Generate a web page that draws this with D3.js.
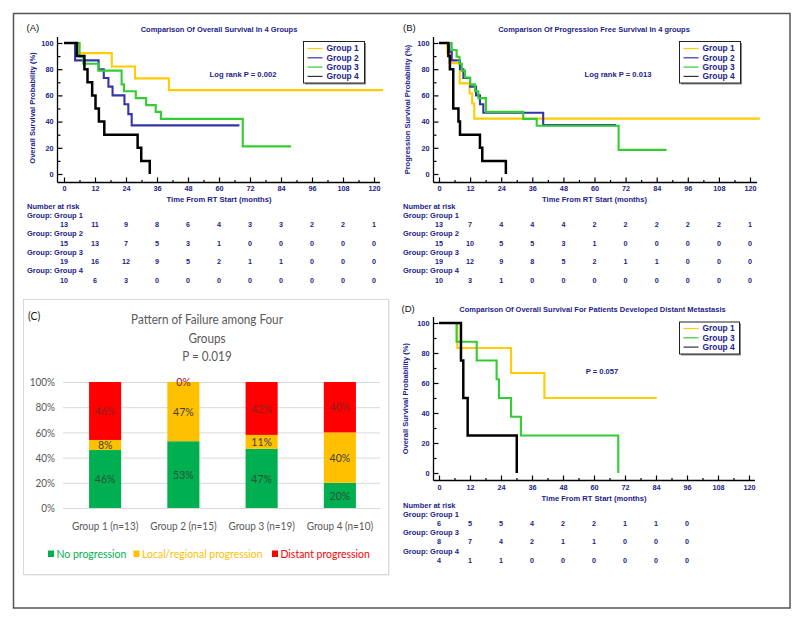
<!DOCTYPE html>
<html><head><meta charset="utf-8">
<script src="https://cdn.jsdelivr.net/npm/d3@7"></script>
<style>body{margin:0;background:#fff}svg{display:block}</style>
</head><body>
<svg id="fig" width="800" height="619"></svg>
<script>
// ---------- DATA ----------
const timeTicks = [0,12,24,36,48,60,72,84,96,108,120];
const timeMinor = [6,18,30,42,54,66,78,90,102,114];
const survTicks = [0,20,40,60,80,100];
const survMinor = [10,30,50,70,90];
const groupNames = ["Group 1","Group 2","Group 3","Group 4"];

// Panel A: overall survival [months, %]
const osG1 = [[0,100],[6,92.3],[18.5,82.1],[27.5,73.0],[40.6,64.0],[123.5,64.0]];
const osG2 = [[0,100],[4.3,86.7],[13.4,80.0],[15.4,73.3],[17.2,66.7],[18.8,60.0],[23.4,53.3],[24.9,45.7],[26.2,37.1],[67.9,37.1]];
const osG3 = [[0,100],[6,89.5],[7.5,84.2],[13.3,78.9],[22.3,68.4],[23.2,63.2],[27.8,57.9],[31.8,52.6],[35.5,47.4],[37.5,42.1],[69.2,21.1],[87.9,21.1]];
const osG4 = [[0,100],[5,90],[7.9,80],[9.1,70],[10.9,60],[12.2,50],[13.5,40],[15.6,30],[28.5,20],[29.9,10],[33.2,0]];
const riskA = [[13,11,9,8,6,4,3,3,2,2,1],[15,13,7,5,3,1,0,0,0,0,0],[19,16,12,9,5,2,1,1,0,0,0],[10,6,3,0,0,0,0,0,0,0,0]];

// Panel B: progression free survival
const pfsG1 = [[0,100],[3.2,92.3],[4,84.6],[8,69.2],[11.8,61.5],[12.8,53.8],[13.6,42.3],[123.8,42.3]];
const pfsG2 = [[0,100],[4,93.3],[4.9,86.7],[8.1,80.0],[9.4,73.3],[12,66.7],[14.3,60.0],[15.8,53.3],[17.1,46.7],[40.2,37.3],[68.3,37.3]];
const pfsG3 = [[0,100],[4.9,94.7],[6.8,89.5],[7.9,84.2],[8.8,78.9],[10,73.7],[12,68.4],[13.9,63.2],[15.2,57.9],[18.1,47.4],[32.5,42.1],[37.7,36.8],[69.3,18.4],[87.8,18.4]];
const pfsG4 = [[0,100],[3.6,90],[4.2,80],[5.5,50],[7.5,40],[8.1,30],[15.8,20],[16.7,10],[25.8,0]];
const riskB = [[13,7,4,4,4,2,2,2,2,2,1],[15,10,5,5,3,1,0,0,0,0,0],[19,12,9,8,5,2,1,1,0,0,0],[10,3,1,0,0,0,0,0,0,0,0]];

// Panel D: overall survival, distant metastasis
const dmNames = ["Group 1","Group 3","Group 4"];
const dmG1 = [[0,100],[7.1,83.3],[27.9,66.7],[40.8,50],[84.3,50]];
const dmG3 = [[0,100],[6.8,87.5],[14.6,75],[22.3,62.5],[23.2,50],[27.9,37.5],[31.7,25],[69.4,0]];
const dmG4 = [[0,100],[8.5,75],[9.4,50],[11.1,25],[30.1,0]];
const riskD = [[6,5,5,4,2,2,1,1,0],[8,7,4,2,1,1,0,0,0],[4,1,1,0,0,0,0,0,0]];

// Panel C: pattern of failure (%)
const failCats = ["Group 1 (n=13)","Group 2 (n=15)","Group 3 (n=19)","Group 4 (n=10)"];
const noProgression = [46,53,47,20];
const localRegional = [8,47,11,40];
const distantProg = [46,0,42,40];
const pctTicks = [0,20,40,60,80,100];
const failSeries = ["No progression","Local/regional progression","Distant progression"];

// ---------- STYLE ----------
const NAVY = "#22228a";
const COL = {g1:"#FFCC00", g2:"#3535A8", g3:"#33CC33", g4:"#000000"};
const BF = "'Liberation Sans', Arial, sans-serif";
const svg = d3.select("#fig");

// outer frame
svg.append("rect").attr("x",13.5).attr("y",13.5).attr("width",776.5).attr("height",594.5)
  .attr("fill","none").attr("stroke","#555").attr("stroke-width",1.5);

function drawKM(cfg){
  const g = svg.append("g");
  const x = d3.scaleLinear().domain([0,120]).range([cfg.x0,cfg.x120]);
  const y = d3.scaleLinear().domain([0,100]).range([cfg.y0,cfg.y100]);
  g.append("text").attr("x",cfg.labX).attr("y",cfg.labY).text(cfg.label)
    .attr("font-family",BF).attr("font-size",9.5).attr("fill","#111");
  g.append("text").attr("x",cfg.titleX).attr("y",cfg.titleY).text(cfg.title)
    .attr("text-anchor","middle").attr("font-family",BF).attr("font-weight","bold")
    .attr("font-size",7.5).attr("fill",NAVY);
  g.append("line").attr("x1",cfg.axX).attr("x2",cfg.axX).attr("y1",cfg.axTop).attr("y2",cfg.axY)
    .attr("stroke","#000").attr("stroke-width",1.3);
  g.append("line").attr("x1",cfg.axX).attr("x2",cfg.axRight).attr("y1",cfg.axY).attr("y2",cfg.axY)
    .attr("stroke","#000").attr("stroke-width",1.3);
  const xa = g.append("g").attr("transform",`translate(0,${cfg.axY})`)
    .call(d3.axisBottom(x).tickValues(timeTicks).tickSize(-5).tickPadding(3));
  const xm = g.append("g").attr("transform",`translate(0,${cfg.axY})`)
    .call(d3.axisBottom(x).tickValues(timeMinor).tickSize(-2.5).tickFormat(""));
  const ya = g.append("g").attr("transform",`translate(${cfg.axX},0)`)
    .call(d3.axisLeft(y).tickValues(survTicks).tickSize(-5).tickPadding(4));
  const ym = g.append("g").attr("transform",`translate(${cfg.axX},0)`)
    .call(d3.axisLeft(y).tickValues(survMinor).tickSize(-3).tickFormat(""));
  [xa,xm,ya,ym].forEach(a=>{
    a.select(".domain").remove();
    a.selectAll(".tick line").attr("stroke","#000").attr("stroke-width",1.2);
    a.selectAll("text").attr("font-family",BF).attr("font-weight","bold")
      .attr("font-size",7.3).attr("fill",NAVY);
  });
  xa.selectAll("text").attr("dy",null).attr("y",cfg.tickLabY-cfg.axY);
  g.append("text").attr("transform",`translate(${cfg.yLabX},${cfg.yLabY}) rotate(-90)`)
    .attr("text-anchor","middle").attr("dy","0.35em").text(cfg.yTitle)
    .attr("font-family",BF).attr("font-weight","bold").attr("font-size",7.5).attr("fill",NAVY);
  g.append("text").attr("x",cfg.xLabX).attr("y",cfg.xLabY).attr("text-anchor","middle")
    .text("Time From RT Start (months)")
    .attr("font-family",BF).attr("font-weight","bold").attr("font-size",7.6).attr("fill",NAVY);
  const line = d3.line().x(d=>x(d[0])).y(d=>y(d[1])).curve(d3.curveStepAfter);
  cfg.curves.forEach((c,i)=>{
    g.append("path").attr("d",line(c)).attr("fill","none").attr("stroke",cfg.colors[i])
      .attr("stroke-width",cfg.colors[i]==="#000000"?2.5:2.1);
  });
  const L = cfg.legend;
  g.append("rect").attr("x",L.x+1.5).attr("y",L.y+1.5).attr("width",L.w).attr("height",L.h).attr("fill","#888");
  g.append("rect").attr("x",L.x).attr("y",L.y).attr("width",L.w).attr("height",L.h)
    .attr("fill","#fff").attr("stroke","#222").attr("stroke-width",1);
  cfg.names.forEach((n,i)=>{
    const ry = L.y + L.top + i*L.step;
    g.append("line").attr("x1",L.x+4).attr("x2",L.x+19).attr("y1",ry).attr("y2",ry)
      .attr("stroke",cfg.colors[i]==="#000000"?"#333":cfg.colors[i]).attr("stroke-width",1.2);
    g.append("text").attr("x",L.x+23).attr("y",ry).attr("dy","0.35em").text(n)
      .attr("font-family",BF).attr("font-weight","bold").attr("font-size",8.4).attr("fill",NAVY);
  });
  g.append("text").attr("x",cfg.pX).attr("y",cfg.pY).attr("text-anchor","middle").text(cfg.pText)
    .attr("font-family",BF).attr("font-weight","bold").attr("font-size",7.6).attr("fill",NAVY);
  const R = cfg.risk;
  g.append("text").attr("x",R.x).attr("y",R.y0).text("Number at risk")
    .attr("font-family",BF).attr("font-weight","bold").attr("font-size",7.5).attr("fill",NAVY);
  cfg.riskData.forEach((row,i)=>{
    g.append("text").attr("x",R.x).attr("y",R.y0+R.step*(1+2*i)).text("Group: "+cfg.names[i])
      .attr("font-family",BF).attr("font-weight","bold").attr("font-size",7.5).attr("fill",NAVY);
    g.selectAll(null).data(row).enter().append("text")
      .attr("x",(d,j)=>x(timeTicks[j])).attr("y",R.y0+R.step*(2+2*i))
      .attr("text-anchor","middle").text(d=>d)
      .attr("font-family",BF).attr("font-weight","bold").attr("font-size",7.2).attr("fill",NAVY);
  });
}

drawKM({
  label:"(A)", labX:26.5, labY:30.5,
  title:"Comparison Of Overall Survival In 4 Groups", titleX:219, titleY:31.5,
  x0:64, x120:374, y0:174, y100:43, axX:57.5, axY:182.5, axTop:37, axRight:380, tickLabY:190.8,
  yTitle:"Overall Survival Probability (%)", yLabX:32.3, yLabY:108,
  xLabX:219, xLabY:201.5,
  curves:[osG1,osG2,osG3,osG4], colors:[COL.g1,COL.g2,COL.g3,COL.g4], names:groupNames,
  legend:{x:303.5,y:41.5,w:61,h:41.5,top:7,step:9.3},
  pText:"Log rank P = 0.002", pX:243, pY:76.5,
  risk:{x:27,y0:208.5,step:9.25}, riskData:riskA
});
drawKM({
  label:"(B)", labX:403, labY:30.5,
  title:"Comparison Of Progression Free Survival In 4 groups", titleX:594, titleY:31.5,
  x0:439, x120:750, y0:174, y100:43, axX:433.5, axY:182.5, axTop:37, axRight:757, tickLabY:190.8,
  yTitle:"Progression Survival Probability (%)", yLabX:407.7, yLabY:109.5,
  xLabX:594.5, xLabY:201.5,
  curves:[pfsG1,pfsG2,pfsG3,pfsG4], colors:[COL.g1,COL.g2,COL.g3,COL.g4], names:groupNames,
  legend:{x:679.5,y:41.5,w:61,h:41.5,top:7,step:9.3},
  pText:"Log rank P = 0.013", pX:618, pY:76.5,
  risk:{x:403,y0:208.5,step:9.25}, riskData:riskB
});
drawKM({
  label:"(D)", labX:401.5, labY:311.5,
  title:"Comparison Of Overall Survival For Patients Developed Distant Metastasis", titleX:592.5, titleY:311.5,
  x0:439, x120:749, y0:473, y100:323, axX:433.5, axY:480.5, axTop:317, axRight:755, tickLabY:489.5,
  yTitle:"Overall Survival Probability (%)", yLabX:405.7, yLabY:398.7,
  xLabX:594, xLabY:501,
  curves:[dmG1,dmG3,dmG4], colors:[COL.g1,COL.g3,COL.g4], names:dmNames,
  legend:{x:679.5,y:322,w:60,h:32,top:6.5,step:9.3},
  pText:"P = 0.057", pX:602, pY:373.5,
  risk:{x:403,y0:507.5,step:9.2}, riskData:riskD
});

// ---------- PANEL C ----------
(function(){
  const LF = "Lato, 'Open Sans', sans-serif";
  const GRAY = "#595959";
  const SX = 0.86; // horizontal squeeze of the pasted chart
  const g = svg.append("g");
  function sqText(x,y,t,size,fill,anchor){
    return g.append("text").attr("transform",`translate(${x},${y}) scale(${SX},1)`)
      .attr("text-anchor",anchor||"middle").attr("dy","0.35em").text(t)
      .attr("font-family",LF).attr("font-size",size).attr("fill",fill);
  }
  g.append("rect").attr("x",24.5).attr("y",300.5).attr("width",365).attr("height",275).attr("fill","#e6e6e6");
  g.append("rect").attr("x",23.5).attr("y",299.5).attr("width",365).attr("height",275)
    .attr("fill","#fff").attr("stroke","#d9d9d9").attr("stroke-width",1);
  sqText(28,316,"(C)",12,"#111","start");
  ["Pattern of Failure among Four","Groups","P = 0.019"].forEach((t,i)=>{
    sqText(207,319.5+i*18.3,t,13.6,GRAY);
  });
  const x = d3.scaleBand().domain(failCats).range([66,379]).paddingInner(0.59).paddingOuter(0.295);
  const y = d3.scaleLinear().domain([0,100]).range([508,382]);
  const rows = failCats.map((c,i)=>({cat:c, np:noProgression[i], lr:localRegional[i], dp:distantProg[i]}));
  const stack = d3.stack().keys(["np","lr","dp"])(rows);
  const colors = ["#00B050","#FFC000","#FF0000"];
  const labCol = ["#2f4f3a","#404040","#8a2020"];
  const ya = g.append("g").attr("transform","translate(63,0)")
    .call(d3.axisLeft(y).tickValues(pctTicks).tickSize(-317).tickPadding(8).tickFormat(d=>d+"%"));
  ya.select(".domain").remove();
  ya.selectAll(".tick line").attr("stroke","#d9d9d9").attr("stroke-width",1);
  ya.selectAll("text").attr("font-family",LF).attr("font-size",11.6).attr("fill",GRAY)
    .attr("transform",`scale(${SX},1)`).attr("x",-8/SX);
  stack.forEach((s,k)=>{
    g.selectAll(null).data(s).enter().append("rect")
      .attr("x",d=>x(d.data.cat)).attr("width",x.bandwidth())
      .attr("y",d=>y(d[1])).attr("height",d=>y(d[0])-y(d[1])).attr("fill",colors[k]);
    s.forEach(d=>{
      sqText(x(d.data.cat)+x.bandwidth()/2,(y(d[0])+y(d[1]))/2,(d[1]-d[0])+"%",12.2,labCol[k]);
    });
  });
  const xa = g.append("g").attr("transform","translate(0,508)")
    .call(d3.axisBottom(x).tickSize(0).tickPadding(14));
  xa.select(".domain").remove();
  xa.selectAll("text").attr("font-family",LF).attr("font-size",11.6).attr("fill",GRAY)
    .attr("transform",`scale(${SX},1)`);
  xa.selectAll(".tick").each(function(){
    const t = d3.select(this).select("text"); t.attr("y",14);
  });
  const legX = [48,133.5,272];
  failSeries.forEach((n,i)=>{
    g.append("rect").attr("x",legX[i]).attr("y",550.5).attr("width",6).attr("height",6.5).attr("fill",colors[i]);
    sqText(legX[i]+8.5,554,n,12.2,colors[i],"start");
  });
})();
</script>
</body></html>
